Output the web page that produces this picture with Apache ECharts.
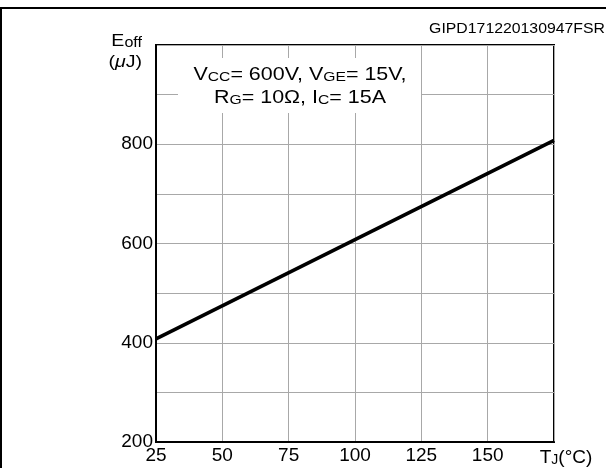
<!DOCTYPE html>
<html>
<head>
<meta charset="utf-8">
<script src="https://cdn.jsdelivr.net/npm/echarts@6/dist/echarts.min.js"></script>
<style>
html,body{margin:0;padding:0;background:#fff;}
#main{width:606px;height:468px;}
</style>
</head>
<body>
<div id="main"></div>
<script>
// Data
var tempC = [25, 175];            // junction temperature (°C)
var eoff = [408, 808];            // turn-off energy (µJ)
var xTicks = [25, 50, 75, 100, 125, 150];
var yTickLabels = [200, 400, 600, 800];
var figureCode = 'GIPD171220130947FSR';
var titleText = 'Figure 18. Turn-off switching losses vs temperature';

var FONT = '"Liberation Sans", Arial, Helvetica, sans-serif';
var chart = echarts.init(document.getElementById('main'), null, {renderer: 'canvas'});

var seriesData = tempC.map(function (t, i) { return [t, eoff[i]]; });

var option = {
  animation: false,
  backgroundColor: '#fff',
  textStyle: {fontFamily: FONT},
  grid: {
    left: 156, right: 52, top: 45, bottom: 26,
    show: true, borderColor: '#000', borderWidth: 2, backgroundColor: 'transparent',
    containLabel: false
  },
  xAxis: {
    type: 'value', min: 25, max: 175, interval: 25,
    axisLine: {show: true, lineStyle: {color: '#000', width: 2}},
    axisTick: {show: false},
    splitLine: {show: true, lineStyle: {color: '#a8a8a8', width: 1}},
    axisLabel: {
      show: true, color: '#000', fontSize: 19, fontFamily: FONT, margin: 4,
      showMinLabel: true, showMaxLabel: true,
      formatter: function (v) {
        if (v === 175) return '{f|T}{s|J}{t|(°C)}';
        return xTicks.indexOf(v) >= 0 ? String(v) : '';
      },
      rich: {
        f: {fontSize: 19, color: '#000', fontFamily: FONT, verticalAlign: 'bottom', lineHeight: 21, padding: [0, 0, 0, 24]},
        t: {fontSize: 19, color: '#000', fontFamily: FONT, verticalAlign: 'bottom', lineHeight: 21},
        s: {fontSize: 14, color: '#000', fontFamily: FONT, verticalAlign: 'bottom', lineHeight: 19}
      }
    }
  },
  yAxis: {
    type: 'value', min: 200, max: 1000, interval: 100,
    axisLine: {show: true, lineStyle: {color: '#000', width: 2}},
    axisTick: {show: false},
    splitLine: {show: true, lineStyle: {color: '#a8a8a8', width: 1}},
    axisLabel: {
      show: true, color: '#000', fontSize: 19, fontFamily: FONT, margin: 3,
      showMinLabel: true,
      formatter: function (v) { return yTickLabels.indexOf(v) >= 0 ? String(v) : ''; }
    }
  },
  series: [{
    type: 'line',
    data: seriesData,
    symbol: 'none',
    lineStyle: {color: '#000', width: 3.6},
    z: 5
  }],
  graphic: [
    // outer frame
    {type: 'rect', shape: {x: 1, y: 8, width: 640, height: 520},
     style: {fill: 'none', stroke: '#000', lineWidth: 2}, z: 1, silent: true},
    // title, mostly cropped above the picture
    {type: 'text', x: 35, y: 0, z: 10, silent: true,
     style: {text: titleText, font: 'bold 18px ' + FONT, fill: '#000',
             textAlign: 'left', textVerticalAlign: 'bottom'}},
    // figure code
    {type: 'text', x: 605, y: 29, z: 10, silent: true, scaleX: 1.13,
     style: {text: figureCode, font: '14px ' + FONT, fill: '#000',
             textAlign: 'right', textVerticalAlign: 'middle'}},
    // y axis name
    {type: 'text', x: 142, y: 29, z: 10, silent: true, scaleX: 1.15,
     style: {
       text: '{a|E}{b|off}\n{a|(}{m|\u03bc}{a|J)}',
       textAlign: 'right', textVerticalAlign: 'top',
       rich: {
         a: {fontSize: 17, fontFamily: FONT, fill: '#000', lineHeight: 21, verticalAlign: 'bottom'},
         b: {fontSize: 14, fontFamily: FONT, fill: '#000', lineHeight: 19, verticalAlign: 'bottom'},
         m: {fontSize: 17, fontFamily: FONT, fontStyle: 'italic', fill: '#000', lineHeight: 21, verticalAlign: 'bottom'}
       }
     }},
    // conditions box
    {type: 'rect', shape: {x: 178, y: 58, width: 243, height: 55},
     style: {fill: '#fff', stroke: 'none'}, z: 8, silent: true},
    {type: 'text', x: 300, y: 61, z: 10, silent: true, scaleX: 1.16,
     style: {
       text: '{a|V}{s|CC}{a|= 600V, V}{s|GE}{a|= 15V,}\n{a|R}{s|G}{a|= 10\u03a9, I}{s|C}{a|= 15A}',
       textAlign: 'center', textVerticalAlign: 'top',
       rich: {
         a: {fontSize: 18.5, fontFamily: FONT, fill: '#000', lineHeight: 23, verticalAlign: 'bottom'},
         s: {fontSize: 13.5, fontFamily: FONT, fill: '#000', lineHeight: 21, verticalAlign: 'bottom'}
       }
     }}
  ]
};
chart.setOption(option);
</script>
</body>
</html>
